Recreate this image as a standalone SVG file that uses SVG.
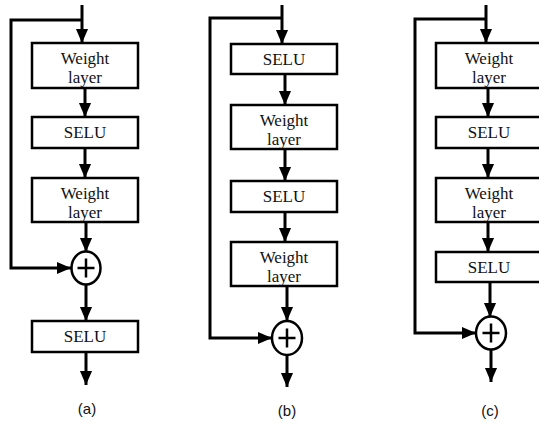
<svg xmlns="http://www.w3.org/2000/svg" width="539" height="424" viewBox="0 0 539 424">
<defs>
<marker id="ah" viewBox="0 0 12 12" refX="12" refY="6" markerWidth="14" markerHeight="14" markerUnits="userSpaceOnUse" orient="auto">
<path d="M0,0.8 L12,6 L0,11.2 z" fill="#000"/>
</marker>
<style>
.box{fill:#fff;stroke:#000;stroke-width:2.5}
.t{font-family:"Liberation Serif","DejaVu Serif",serif;font-size:17px;text-anchor:middle;fill:#111}
.lbl{font-family:"Liberation Sans","Open Sans",sans-serif;font-size:15px;text-anchor:middle;fill:#111}
.c{fill:none;stroke:#000;stroke-width:3}
.a{marker-end:url(#ah)}
.sum{fill:#fff;stroke:#000;stroke-width:2.5}
.plus{stroke:#000;stroke-width:2.5;fill:none}
</style>
</defs>
<rect width="539" height="424" fill="#fff"/>

<g id="connectors">
<!-- (a) -->
<path class="c a" d="M82,5 V43"/>
<path class="c a" d="M82,20 H11 V268 H71"/>
<path class="c a" d="M85,88 V117"/>
<path class="c a" d="M85,148 V178"/>
<path class="c a" d="M86,222 V252"/>
<path class="c a" d="M86,285 V321"/>
<path class="c a" d="M86,352 V385"/>
<!-- (b) -->
<path class="c a" d="M282,5 V44"/>
<path class="c a" d="M282,18 H210 V338 H272"/>
<path class="c a" d="M285,74 V105"/>
<path class="c a" d="M285,149 V181"/>
<path class="c a" d="M285,212 V242"/>
<path class="c a" d="M287,286 V321"/>
<path class="c a" d="M287,355 V387"/>
<!-- (c) -->
<path class="c a" d="M486,5 V43"/>
<path class="c a" d="M486,19 H415 V333 H476"/>
<path class="c a" d="M488,88 V117"/>
<path class="c a" d="M488,148 V178"/>
<path class="c a" d="M488,222 V252"/>
<path class="c a" d="M490,282 V317"/>
<path class="c a" d="M491,349 V382"/>
</g>

<!-- Panel (a) -->
<g id="a-weight1"><rect class="box" x="32" y="43" width="106" height="45"/><text class="t" x="85" y="64">Weight</text><text class="t" x="85" y="83">layer</text></g>
<g id="a-selu1"><rect class="box" x="32" y="117" width="106" height="31"/><text class="t" x="85" y="138">SELU</text></g>
<g id="a-weight2"><rect class="box" x="32" y="178" width="106" height="44"/><text class="t" x="85" y="199">Weight</text><text class="t" x="85" y="218">layer</text></g>
<g id="a-sum"><ellipse class="sum" cx="86" cy="268" rx="14.5" ry="16.5"/><path class="plus" d="M86,258.5 V277.5 M77.5,268 H94.5"/></g>
<g id="a-selu2"><rect class="box" x="32" y="321" width="106" height="31"/><text class="t" x="85" y="342">SELU</text></g>
<g id="a-label"><text class="lbl" x="87" y="414">(a)</text></g>

<!-- Panel (b) -->
<g id="b-selu1"><rect class="box" x="231" y="44" width="106" height="30"/><text class="t" x="284" y="64.5">SELU</text></g>
<g id="b-weight1"><rect class="box" x="231" y="105" width="106" height="44"/><text class="t" x="284" y="126">Weight</text><text class="t" x="284" y="145">layer</text></g>
<g id="b-selu2"><rect class="box" x="231" y="181" width="106" height="31"/><text class="t" x="284" y="202">SELU</text></g>
<g id="b-weight2"><rect class="box" x="231" y="242" width="106" height="44"/><text class="t" x="284" y="263">Weight</text><text class="t" x="284" y="282">layer</text></g>
<g id="b-sum"><ellipse class="sum" cx="287" cy="338" rx="15" ry="17"/><path class="plus" d="M287,328.5 V347.5 M278.5,338 H295.5"/></g>
<g id="b-label"><text class="lbl" x="287" y="416">(b)</text></g>

<!-- Panel (c) -->
<g id="c-weight1"><rect class="box" x="436" y="43" width="106" height="45"/><text class="t" x="489" y="64">Weight</text><text class="t" x="489" y="83">layer</text></g>
<g id="c-selu1"><rect class="box" x="436" y="117" width="106" height="31"/><text class="t" x="489" y="138">SELU</text></g>
<g id="c-weight2"><rect class="box" x="436" y="178" width="106" height="44"/><text class="t" x="489" y="199">Weight</text><text class="t" x="489" y="218">layer</text></g>
<g id="c-selu2"><rect class="box" x="436" y="252" width="106" height="30"/><text class="t" x="489" y="272.5">SELU</text></g>
<g id="c-sum"><ellipse class="sum" cx="491" cy="333" rx="15" ry="16.5"/><path class="plus" d="M491,323.5 V342.5 M482.5,333 H499.5"/></g>
<g id="c-label"><text class="lbl" x="490" y="416">(c)</text></g>
</svg>
